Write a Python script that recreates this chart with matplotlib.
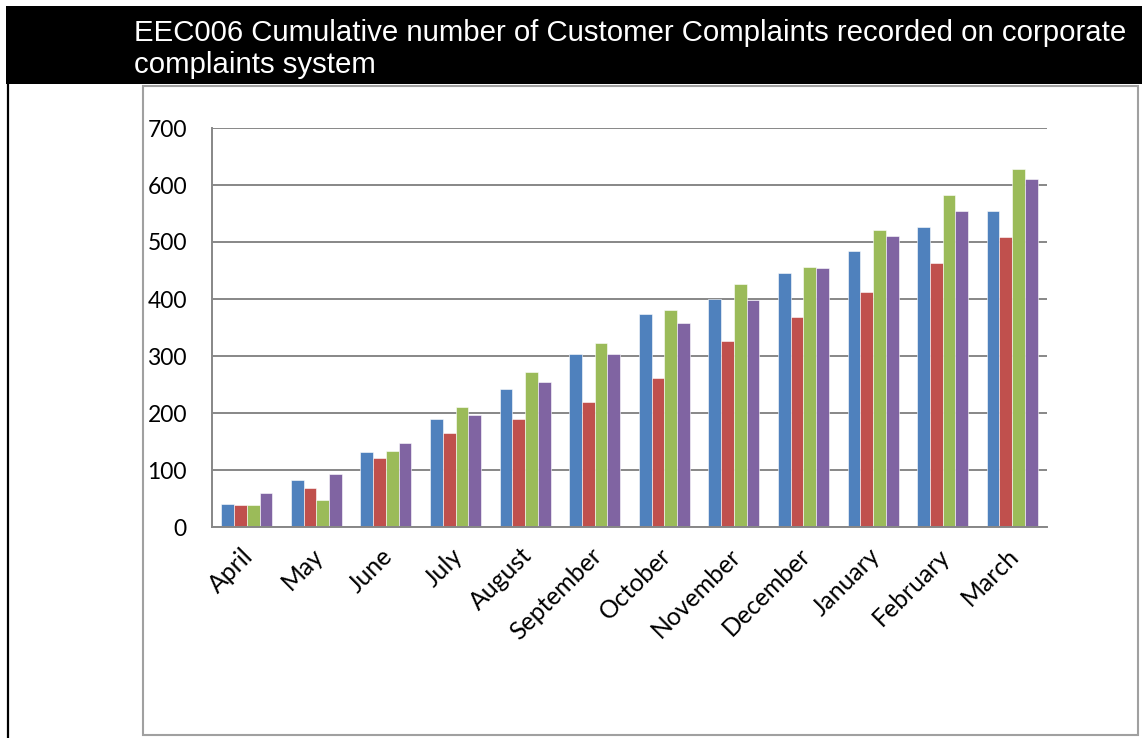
import numpy as np
import matplotlib
matplotlib.use("Agg")
import matplotlib.pyplot as plt
from matplotlib.patches import Rectangle
from matplotlib.lines import Line2D
from matplotlib.transforms import ScaledTranslation

# Chart data
months = ['April', 'May', 'June', 'July', 'August', 'September', 'October',
          'November', 'December', 'January', 'February', 'March']
series_1 = [41, 83, 132, 189, 242, 303, 374, 400, 445, 484, 527, 554]
series_2 = [38, 68, 121, 165, 189, 220, 261, 327, 368, 412, 463, 508]
series_3 = [38, 48, 134, 210, 272, 322, 381, 426, 456, 521, 583, 628]
series_4 = [60, 93, 148, 196, 255, 303, 358, 398, 455, 511, 555, 610]
y_ticks = [0, 100, 200, 300, 400, 500, 600, 700]
title_lines = ['EEC006 Cumulative number of Customer Complaints recorded on corporate',
               'complaints system']

colors = ['#4F81BD', '#C0504D', '#9BBB59', '#8064A2']
W, H = 1142, 738

fig = plt.figure(figsize=(W / 100, H / 100), dpi=100)
fig.patch.set_facecolor('white')

# black title bar and cell border
fig.patches.append(Rectangle((6 / W, 1 - 84 / H), 1 - 6 / W, 78 / H,
                             transform=fig.transFigure, facecolor='black',
                             edgecolor='none', zorder=0))
fig.lines.append(Line2D([7.5 / W, 7.5 / W], [0, 1 - 84 / H],
                        transform=fig.transFigure, color='black', lw=1.6))
for i, line in enumerate(title_lines):
    fig.text(134 / W, 1 - (41 + 32 * i) / H, line, color='white',
             family='Liberation Sans', fontsize=21.2, va='baseline', ha='left')

# chart frame
fig.patches.append(Rectangle((143 / W, 1 - 735 / H), (1138 - 143) / W, (735 - 86) / H,
                             transform=fig.transFigure, facecolor='none',
                             edgecolor='#a0a0a0', lw=1.5, zorder=0))

ax = fig.add_axes([212 / W, 1 - 527 / H, (1047 - 212) / W, (527 - 128) / H])
ax.set_facecolor('none')

x = np.arange(len(months))
bw = 0.183
for i, vals in enumerate([series_1, series_2, series_3, series_4]):
    ax.bar(x + (i - 1.5) * bw, vals, width=bw, color=colors[i],
           edgecolor='white', linewidth=0.4, zorder=3)

ax.set_xlim(-0.5, len(months) - 0.5)
ax.set_ylim(0, 700)
ax.set_yticks(y_ticks)
ax.yaxis.grid(True, color='#878787', lw=1.4, zorder=1)
ax.set_axisbelow(True)
for s in ['top', 'right']:
    ax.spines[s].set_visible(False)
for s in ['left', 'bottom']:
    ax.spines[s].set_color('#878787')
    ax.spines[s].set_linewidth(1.4)
    ax.spines[s].set_zorder(4)

ax.tick_params(axis='y', length=0, pad=18, labelsize=16.5)
ax.tick_params(axis='x', length=0, pad=18, labelsize=17.8)
for lab in ax.get_yticklabels():
    lab.set_family('Lato')

ax.set_xticks(x)
ax.set_xticklabels(months, rotation=45, ha='right', va='center',
                   rotation_mode='anchor', family='Lato')
offset = ScaledTranslation(3 / 100, 0, fig.dpi_scale_trans)
for lab in ax.get_xticklabels():
    lab.set_transform(lab.get_transform() + offset)

fig.savefig('out.png', dpi=100)
